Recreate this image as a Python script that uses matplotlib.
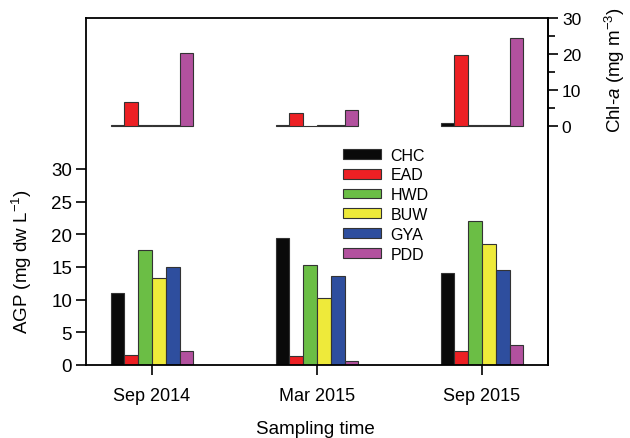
import numpy as np
import matplotlib.pyplot as plt

plt.rcParams['font.family'] = ['Liberation Sans', 'DejaVu Sans']
plt.rcParams['mathtext.fontset'] = 'custom'
plt.rcParams['mathtext.rm'] = 'Liberation Sans'
plt.rcParams['mathtext.it'] = 'Liberation Sans:italic'
plt.rcParams['font.size'] = 13

times = ['Sep 2014', 'Mar 2015', 'Sep 2015']
sites = ['CHC', 'EAD', 'HWD', 'BUW', 'GYA', 'PDD']
colors = ['#0a0a0a', '#ed2024', '#6bbe45', '#eeea3a', '#2e4e9e', '#b2519e']

# AGP (mg dw L-1), one list per site, values for each sampling time
agp = {
    'CHC': [11.0, 19.5, 14.1],
    'EAD': [1.6, 1.3, 2.2],
    'HWD': [17.6, 15.3, 22.0],
    'BUW': [13.3, 10.3, 18.5],
    'GYA': [15.0, 13.6, 14.5],
    'PDD': [2.2, 0.6, 3.1],
}

# Chl-a (mg m-3)
chla = {
    'CHC': [0.5, 0.3, 0.8],
    'EAD': [6.8, 3.7, 19.8],
    'HWD': [0.3, 0.2, 0.5],
    'BUW': [0.4, 0.3, 0.4],
    'GYA': [0.3, 0.3, 0.5],
    'PDD': [20.2, 4.6, 24.4],
}

x = np.arange(len(times))
width = 0.0835

fig = plt.figure(figsize=(6.3, 4.39), dpi=100)
ax = fig.add_axes([0.1365, 0.1663, 0.7333, 0.7904])
ax2 = ax.twinx()

for i, site in enumerate(sites):
    offset = (i - 2.5) * width
    ax.bar(x + offset, agp[site], width, color=colors[i], edgecolor='#333333',
           linewidth=0.8, label=site)
    ax2.bar(x + offset, chla[site], width, color=colors[i], edgecolor='#333333',
            linewidth=0.8)

ax.set_xlim(-0.40, 2.40)
ax.set_ylim(0, 53.1)
ax.set_yticks(range(0, 31, 5))
ax.set_xticks(x)
ax.set_xticklabels(times)
ax.tick_params(axis='both', direction='out', length=7, width=1.2, pad=3,
               labelsize=13.5)
ax.tick_params(axis='x', pad=9, labelsize=13)
for s in ax.spines.values():
    s.set_linewidth(1.3)

ax2.set_ylim(-66.1, 30)
ax2.set_yticks([0, 10, 20, 30])
ax2.set_yticks([5, 15, 25], minor=True)
ax2.tick_params(axis='y', which='major', direction='out', length=7, width=1.2,
                pad=3, labelsize=12.5)
ax2.tick_params(axis='y', which='minor', direction='out', length=5, width=1.2)
for name, s in ax2.spines.items():
    s.set_visible(name == 'right')
    s.set_linewidth(1.3)

ax.set_xlabel('Sampling time', fontsize=13.5)
ax.xaxis.set_label_coords(0.496, -0.158)
ax.set_ylabel('AGP (mg dw L$^{-1}$)', fontsize=13.5)
ax.yaxis.set_label_coords(-0.112, 0.30)
ax2.set_ylabel('Chl-$a$ (mg m$^{-3}$)', fontsize=13.5)
ax2.yaxis.set_label_coords(1.118, 0.853)

ax.legend(loc='upper left', bbox_to_anchor=(0.543, 0.645), frameon=False,
          borderaxespad=0, handlelength=2.36, handleheight=0.55,
          labelspacing=0.3, handletextpad=0.6, fontsize=11.5)

fig.savefig('out.png', dpi=100)
